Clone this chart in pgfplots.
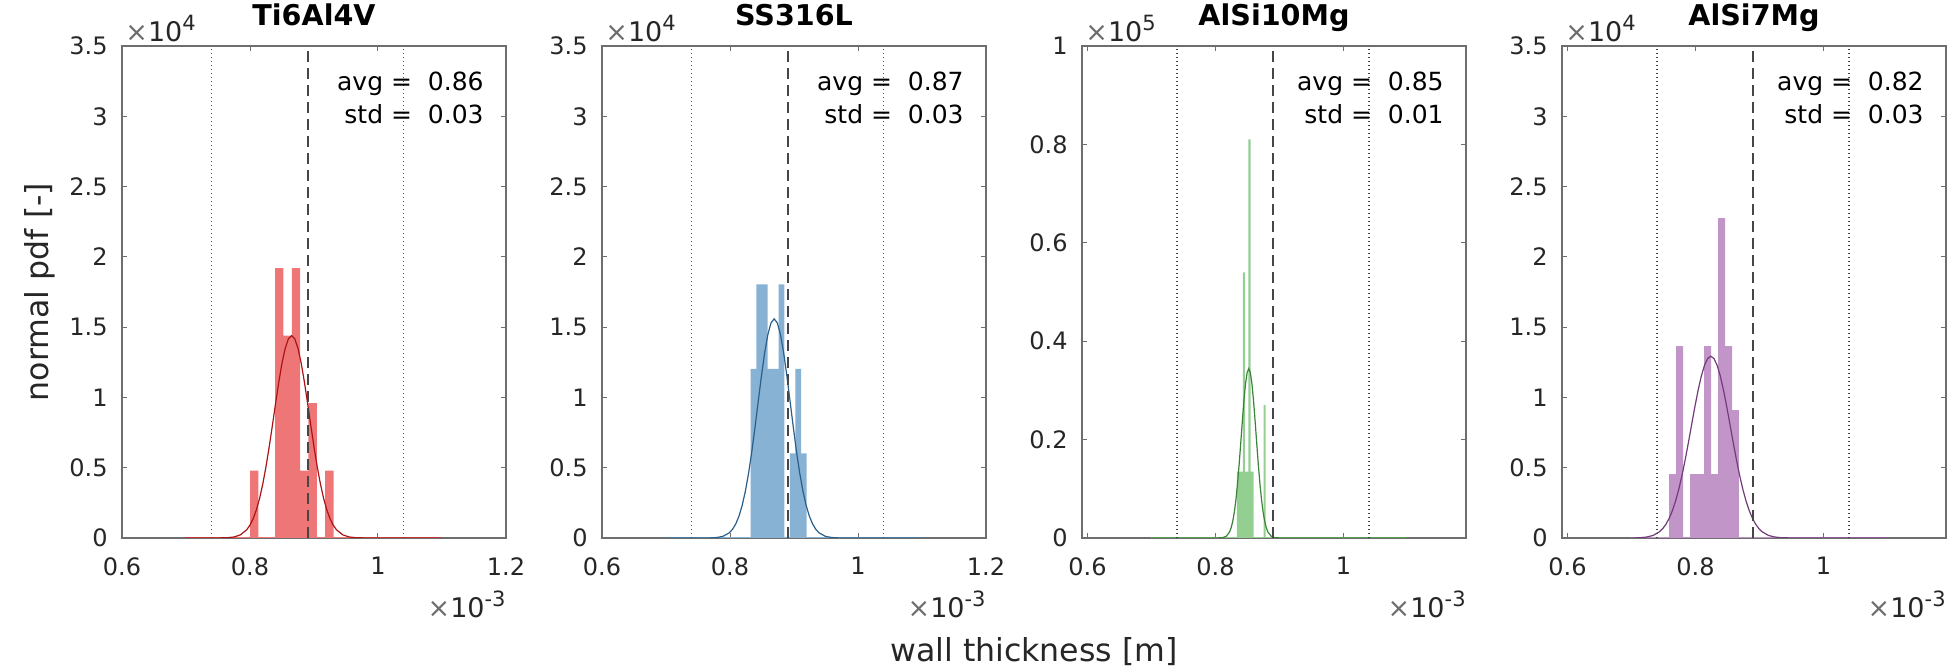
\documentclass[border=0pt]{standalone}
\usepackage{fontspec}
\setmainfont{DejaVu Sans}
\usepackage{pgfplots}
\pgfplotsset{compat=1.18}

\definecolor{axgray}{RGB}{110,110,110}
\definecolor{txt}{RGB}{38,38,38}
\definecolor{vgray}{RGB}{70,70,70}
\definecolor{barR}{RGB}{239,118,119}
\definecolor{lineR}{RGB}{171,20,21}
\definecolor{barB}{RGB}{135,178,212}
\definecolor{lineB}{RGB}{41,95,138}
\definecolor{barG}{RGB}{148,207,146}
\definecolor{lineG}{RGB}{58,131,56}
\definecolor{barP}{RGB}{193,149,200}
\definecolor{lineP}{RGB}{114,59,122}

\pgfplotsset{
  hist/.style={
    scale only axis, width=192pt, height=246pt, anchor=south west,
    clip mode=individual,
    axis line style={axgray, line width=0.6pt},
    tick align=inside, tick pos=both,
    major tick length=2.5pt,
    every tick/.style={axgray, line width=0.5pt},
    tick label style={font=\fontsize{12}{14}\selectfont, text=txt, inner sep=0pt},
    xticklabel style={anchor=north, yshift=-9.5pt},
    yticklabel style={anchor=east, xshift=-7pt},
    scaled ticks=false,
    title style={font=\fontsize{14.3}{16}\selectfont\bfseries, at={(0.5,1)}, anchor=base, yshift=4pt, inner sep=0pt},
    ymin=0,
  },
  y35/.style={ymax=3.5, ytick={0,0.5,1,1.5,2,2.5,3,3.5},
    yticklabels={0,0.5,1,1.5,2,2.5,3,3.5}},
}

% reference lines: tolerance band (dotted) and nominal value (dashed)
\newcommand{\reflines}[1]{%
  \addplot[vgray, line width=0.6pt, dash pattern=on 0.6pt off 1.4pt] coordinates {(0.74,0)(0.74,#1)};
  \addplot[vgray, line width=0.6pt, dash pattern=on 0.6pt off 1.4pt] coordinates {(1.04,0)(1.04,#1)};
  \addplot[vgray, line width=1pt, dash pattern=on 5.5pt off 3pt] coordinates {(0.89,0)(0.89,#1)};
}
\newcommand{\stats}[2]{%
  \node[anchor=base east, inner sep=0pt, font=\fontsize{12.5}{15}\selectfont, xshift=-11pt, yshift=-22.5pt] at (rel axis cs:1,1) {avg =\ \ #1};
  \node[anchor=base east, inner sep=0pt, font=\fontsize{12.5}{15}\selectfont, xshift=-11pt, yshift=-39pt] at (rel axis cs:1,1) {std =\ \ #2};
}
\newcommand{\expo}[1]{\raisebox{0.42em}{\fontsize{10.5}{12}\selectfont #1}}
\newcommand{\mult}[2]{%
  \node[anchor=base west, inner sep=0pt, font=\fontsize{13.5}{15}\selectfont, text=txt, xshift=1.5pt, yshift=2pt] at (rel axis cs:0,1) {{\color{axgray}×}10\expo{#1}};
  \node[anchor=base east, inner sep=0pt, font=\fontsize{13.5}{15}\selectfont, text=txt, yshift=-40pt] at (rel axis cs:1,0) {{\color{axgray}×}10\expo{#2}};
}

\begin{document}
\begin{tikzpicture}
\useasboundingbox (0,0) rectangle (977pt,336pt);

% ---------- Ti6Al4V ----------
\begin{axis}[hist, y35, at={(61pt,67pt)}, title={Ti6Al4V},
  xmin=0.6, xmax=1.2, xtick={0.6,0.8,1,1.2}, xticklabels={0.6,0.8,1,1.2}]
\addplot[fill=barR, draw=none] coordinates {
  (0.8002,0)(0.8002,0.480)(0.8132,0.480)(0.8132,0)(0.8393,0)(0.8393,1.919)
  (0.8523,1.919)(0.8523,1.439)(0.8654,1.439)(0.8654,1.919)(0.8784,1.919)
  (0.8784,0.480)(0.8914,0.480)(0.8914,0.959)(0.9044,0.959)(0.9044,0)
  (0.9175,0)(0.9175,0.480)(0.9305,0.480)(0.9305,0)} -- cycle;
\addplot[barR, line width=1pt] coordinates {(0.70,0)(1.10,0)};
\addplot[lineR, line width=0.6pt] coordinates {
  (0.700,0)(0.745,0)(0.765,0.0021)(0.775,0.0073)(0.785,0.0222)(0.795,0.0591)
  (0.800,0.0917)(0.805,0.1379)(0.810,0.2006)(0.815,0.2824)(0.820,0.3849)
  (0.825,0.5077)(0.830,0.6482)(0.835,0.8011)(0.840,0.9582)(0.845,1.1097)
  (0.850,1.2436)(0.855,1.349)(0.860,1.4167)(0.865,1.44)(0.870,1.4167)
  (0.875,1.349)(0.880,1.2436)(0.885,1.1097)(0.890,0.9582)(0.895,0.8011)
  (0.900,0.6482)(0.905,0.5077)(0.910,0.3849)(0.915,0.2824)(0.920,0.2006)
  (0.925,0.1379)(0.930,0.0917)(0.935,0.0591)(0.945,0.0222)(0.955,0.0073)
  (0.965,0.0021)(0.985,0)(1.100,0)};
\reflines{3.5}
\stats{0.86}{0.03}
\mult{4}{-3}
\end{axis}

% ---------- SS316L ----------
\begin{axis}[hist, y35, at={(301pt,67pt)}, title={SS316L},
  xmin=0.6, xmax=1.2, xtick={0.6,0.8,1,1.2}, xticklabels={0.6,0.8,1,1.2}]
\addplot[fill=barB, draw=none] coordinates {
  (0.8323,0)(0.8323,1.203)(0.8411,1.203)(0.8411,1.805)(0.8586,1.805)
  (0.8586,1.203)(0.8761,1.203)(0.8761,1.805)(0.8848,1.805)(0.8848,0)
  (0.8936,0)(0.8936,0.602)(0.9023,0.602)(0.9023,1.203)(0.9111,1.203)
  (0.9111,0.602)(0.9198,0.602)(0.9198,0)} -- cycle;
\addplot[barB, line width=1pt] coordinates {(0.70,0)(1.10,0)};
\addplot[lineB, line width=0.6pt] coordinates {
  (0.700,0)(0.769,0.0008)(0.779,0.0032)(0.789,0.0118)(0.799,0.0371)
  (0.804,0.0621)(0.809,0.1000)(0.814,0.1551)(0.819,0.2315)(0.824,0.3326)
  (0.829,0.4599)(0.834,0.6123)(0.839,0.7845)(0.844,0.9677)(0.849,1.1490)
  (0.854,1.3130)(0.859,1.4444)(0.864,1.5295)(0.869,1.559)(0.874,1.5295)
  (0.879,1.4444)(0.884,1.3130)(0.889,1.1490)(0.894,0.9677)(0.899,0.7845)
  (0.904,0.6123)(0.909,0.4599)(0.914,0.3326)(0.919,0.2315)(0.924,0.1551)
  (0.929,0.1000)(0.934,0.0621)(0.939,0.0371)(0.949,0.0118)(0.959,0.0032)
  (0.969,0.0008)(0.990,0)(1.100,0)};
\reflines{3.5}
\stats{0.87}{0.03}
\mult{4}{-3}
\end{axis}

% ---------- AlSi10Mg ----------
\begin{axis}[hist, at={(541pt,67pt)}, title={AlSi10Mg},
  xmin=0.5915, xmax=1.1915, xtick={0.6,0.8,1}, xticklabels={0.6,0.8,1},
  ymax=1, ytick={0,0.2,0.4,0.6,0.8,1}, yticklabels={0,0.2,0.4,0.6,0.8,1}]
\addplot[fill=barG, draw=none] coordinates {
  (0.8335,0)(0.8335,0.135)(0.8430,0.135)(0.8430,0.540)(0.8460,0.540)
  (0.8460,0.135)(0.8515,0.135)(0.8515,0.810)(0.8550,0.810)(0.8550,0.135)
  (0.8598,0.135)(0.8598,0)(0.8752,0)(0.8752,0.270)(0.8785,0.270)(0.8785,0)} -- cycle;
\addplot[barG, line width=1pt] coordinates {(0.70,0)(1.10,0)};
\addplot[lineG, line width=0.6pt] coordinates {
  (0.700,0)(0.802,0)(0.812,0.0009)(0.817,0.0036)(0.822,0.0121)(0.8245,0.0207)
  (0.827,0.0337)(0.8295,0.0524)(0.832,0.0778)(0.8345,0.1103)(0.837,0.1491)
  (0.8395,0.1925)(0.842,0.2372)(0.8445,0.2791)(0.847,0.3135)(0.8495,0.3361)
  (0.852,0.344)(0.8545,0.3361)(0.857,0.3135)(0.8595,0.2791)(0.862,0.2372)
  (0.8645,0.1925)(0.867,0.1491)(0.8695,0.1103)(0.872,0.0778)(0.8745,0.0524)
  (0.877,0.0337)(0.8795,0.0207)(0.882,0.0121)(0.887,0.0036)(0.892,0.0009)
  (0.902,0)(1.100,0)};
\reflines{1}
\stats{0.85}{0.01}
\mult{5}{-3}
\end{axis}

% ---------- AlSi7Mg ----------
\begin{axis}[hist, y35, at={(781pt,67pt)}, title={AlSi7Mg},
  xmin=0.5915, xmax=1.1915, xtick={0.6,0.8,1}, xticklabels={0.6,0.8,1}]
\addplot[fill=barP, draw=none] coordinates {
  (0.7590,0)(0.7590,0.455)(0.7699,0.455)(0.7699,1.365)(0.7808,1.365)(0.7808,0)
  (0.7917,0)(0.7917,0.455)(0.8135,0.455)(0.8135,1.365)(0.8244,1.365)
  (0.8244,0.455)(0.8353,0.455)(0.8353,2.275)(0.8462,2.275)(0.8462,1.365)
  (0.8571,1.365)(0.8571,0.910)(0.8680,0.910)(0.8680,0)} -- cycle;
\addplot[barP, line width=1pt] coordinates {(0.70,0)(1.10,0)};
\addplot[lineP, line width=0.6pt] coordinates {
  (0.700,0)(0.714,0.0022)(0.724,0.0068)(0.734,0.0183)(0.744,0.0448)
  (0.749,0.0673)(0.754,0.0986)(0.759,0.1405)(0.764,0.1951)(0.769,0.2639)
  (0.774,0.3477)(0.779,0.4462)(0.784,0.5579)(0.789,0.6794)(0.794,0.8059)
  (0.799,0.9311)(0.804,1.0480)(0.809,1.1488)(0.814,1.2268)(0.819,1.2762)
  (0.824,1.293)(0.829,1.2762)(0.834,1.2268)(0.839,1.1488)(0.844,1.0480)
  (0.849,0.9311)(0.854,0.8059)(0.859,0.6794)(0.864,0.5579)(0.869,0.4462)
  (0.874,0.3477)(0.879,0.2639)(0.884,0.1951)(0.889,0.1405)(0.894,0.0986)
  (0.899,0.0673)(0.904,0.0448)(0.914,0.0183)(0.924,0.0068)(0.934,0.0022)
  (0.954,0)(1.100,0)};
\reflines{3.5}
\stats{0.82}{0.03}
\mult{4}{-3}
\end{axis}

\node[rotate=90, font=\fontsize{15.8}{18}\selectfont, text=txt] at (20pt,190pt) {normal pdf [-]};
\node[font=\fontsize{15.8}{18}\selectfont, text=txt] at (517pt,10pt) {wall thickness [m]};
\end{tikzpicture}
\end{document}
